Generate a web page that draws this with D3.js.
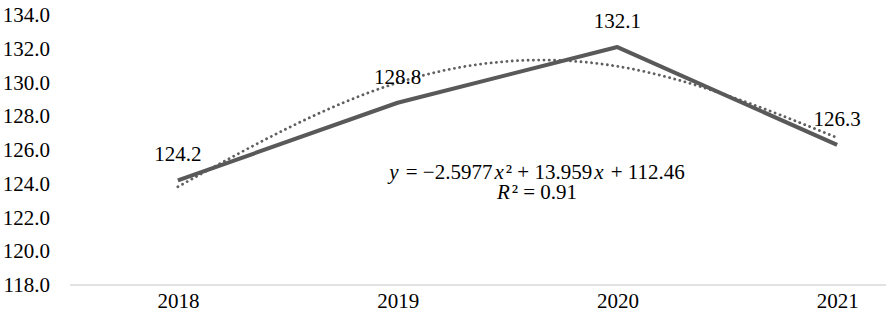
<!DOCTYPE html>
<html>
<head>
<meta charset="utf-8">
<script src="https://cdn.jsdelivr.net/npm/d3@7"></script>
<style>
  body { margin: 0; background: #fff; }
</style>
</head>
<body>
<div id="chart"></div>
<script>
// data
const years = ['2018', '2019', '2020', '2021'];
const values = [124.2, 128.8, 132.1, 126.3];
// polynomial trend line at each year
const trendValues = [123.82, 129.99, 130.96, 126.73];
const yTicks = [118, 120, 122, 124, 126, 128, 130, 132, 134];
// [text, italic?]
const equationParts = [['y', true], [' = \u22122.5977', false], ['x', true], ['\u00b2 + 13.959', false], ['x', true], [' + 112.46', false]];
const r2Parts = [['R', true], ['\u00b2 = 0.91', false]];

const FONT = "'Liberation Serif', 'Times New Roman', serif";
const width = 886, height = 325;
const margin = {top: 15, right: -61, bottom: 40, left: 70};

const svg = d3.select('#chart').append('svg')
    .attr('width', width).attr('height', height)
    .style('display', 'block');

// x: point scale, the last band runs off the right edge like the original
const x = d3.scalePoint().domain(years)
    .range([margin.left - 2, width - margin.right]).padding(0.5);
const y = d3.scaleLinear().domain([118, 134]).range([height - margin.bottom, margin.top]);

// baseline
svg.append('line')
    .attr('x1', margin.left).attr('x2', width)
    .attr('y1', y(118)).attr('y2', y(118))
    .attr('stroke', '#d9d9d9').attr('stroke-width', 1.5);

// y axis labels
const yAxisG = svg.append('g')
    .attr('transform', `translate(${margin.left},0)`)
    .call(d3.axisLeft(y).tickValues(yTicks).tickFormat(d3.format('.1f')).tickSize(0).tickPadding(20));

// x axis labels
const xAxisG = svg.append('g')
    .attr('transform', `translate(0,${y(118)})`)
    .call(d3.axisBottom(x).tickSize(0).tickPadding(8));

[yAxisG, xAxisG].forEach(g => {
    g.select('.domain').remove();
    g.selectAll('text')
        .style('font-family', FONT).style('font-size', '21px').style('fill', '#000');
});

// trend line (dotted)
const trendLine = d3.line()
    .x((d, i) => x(years[i]))
    .y(d => y(d))
    .curve(d3.curveNatural);

svg.append('path')
    .datum(trendValues)
    .attr('d', trendLine)
    .attr('fill', 'none')
    .attr('stroke', '#606060')
    .attr('stroke-width', 2.8)
    .attr('stroke-linecap', 'round')
    .attr('stroke-dasharray', '0.1 5.2');

// main line
const line = d3.line()
    .x((d, i) => x(years[i]))
    .y(d => y(d));

svg.append('path')
    .datum(values)
    .attr('d', line)
    .attr('fill', 'none')
    .attr('stroke', '#595959')
    .attr('stroke-width', 4)
    .attr('stroke-linejoin', 'round');

// data labels
svg.append('g').selectAll('text')
    .data(values)
    .join('text')
    .attr('x', (d, i) => x(years[i]))
    .attr('y', d => y(d) - 19)
    .attr('text-anchor', 'middle')
    .style('font-family', FONT)
    .style('font-size', '21px')
    .text(d => d.toFixed(1));

// equation + R²
function mathText(parts, cx, cy) {
    const t = svg.append('text')
        .attr('x', cx).attr('y', cy)
        .attr('text-anchor', 'middle')
        .style('font-family', FONT)
        .style('font-size', '21px');
    parts.forEach((p, i) => {
        const ts = t.append('tspan').text(p[0]).style('font-style', p[1] ? 'italic' : 'normal');
        // italic glyphs lean into their neighbours, leave a little room on both sides
        if (i > 0 && (p[1] || parts[i - 1][1])) ts.attr('dx', 2);
    });
}
mathText(equationParts, 537, 179);
mathText(r2Parts, 537, 199);
</script>
</body>
</html>
